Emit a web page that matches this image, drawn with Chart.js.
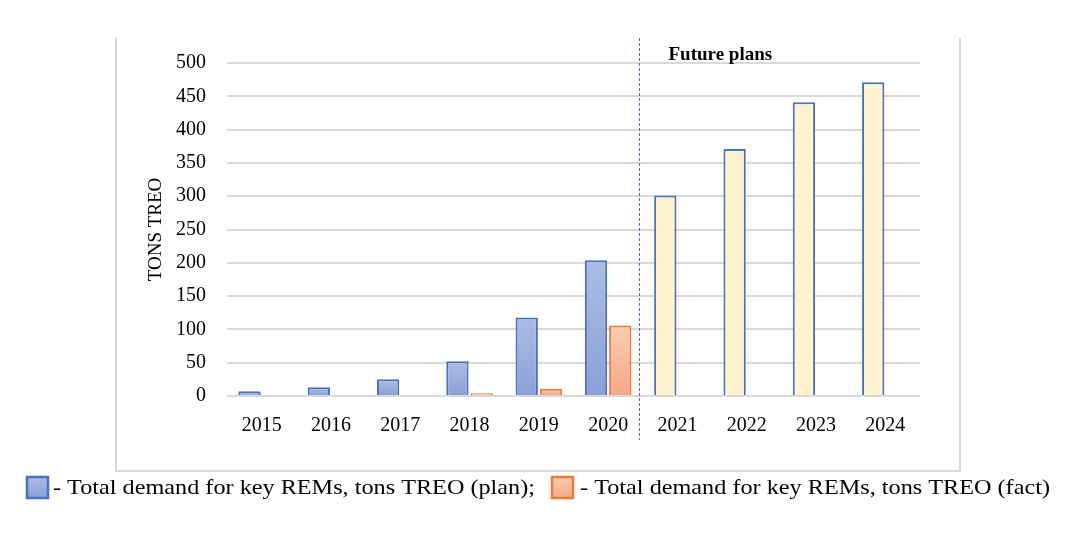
<!DOCTYPE html>
<html>
<head>
<meta charset="utf-8">
<script src="https://cdn.jsdelivr.net/npm/chart.js@4.4.1/dist/chart.umd.min.js"></script>
<style>
  html, body { margin: 0; padding: 0; background: #ffffff; }
  #wrap { position: relative; width: 1085px; height: 537px; }
  canvas { display: block; }
</style>
</head>
<body>
<div id="wrap"><canvas id="c" width="1085" height="537"></canvas></div>
<script>
// ---- data ----
const years = ['2015', '2016', '2017', '2018', '2019', '2020', '2021', '2022', '2023', '2024'];
const planValues = [7, 13, 25, 52, 118, 204, 301, 371, 441, 471];
const factValues = [null, null, null, 4, 11, 106, null, null, null, null];
const futureYears = ['2021', '2022', '2023', '2024'];
const yTicks = [0, 50, 100, 150, 200, 250, 300, 350, 400, 450, 500];
const seriesLabels = ['Total demand for key REMs, tons TREO (plan)', 'Total demand for key REMs, tons TREO (fact)'];
const axisTitle = 'TONS TREO';
const noteText = 'Future plans';

const SERIF = '"Liberation Serif", "Times New Roman", serif';
const planGrad = ['#AEBCE4', '#8AA0D7'];
const factGrad = ['#F9CDB3', '#F4A886'];
const futureFill = '#FFF2CC';

function barGradient(stops, ctx) {
  const chart = ctx.chart;
  const { chartArea, scales } = chart;
  if (!chartArea || !scales.y || ctx.raw == null) return stops[1];
  const yTop = scales.y.getPixelForValue(ctx.raw);
  const y0 = scales.y.getPixelForValue(0);
  if (!isFinite(yTop) || !isFinite(y0) || yTop === y0) return stops[1];
  const g = chart.ctx.createLinearGradient(0, yTop, 0, y0);
  g.addColorStop(0, stops[0]);
  g.addColorStop(1, stops[1]);
  return g;
}

const decorPlugin = {
  id: 'decor',
  beforeDraw(chart) {
    const c = chart.ctx;
    c.save();
    c.strokeStyle = '#D9D9D9';
    c.lineWidth = 2;
    c.beginPath();
    c.moveTo(116, 38); c.lineTo(116, 471); c.lineTo(960, 471); c.lineTo(960, 38);
    c.stroke();
    c.restore();
  },
  afterDraw(chart) {
    const c = chart.ctx;
    const x = chart.scales.x;
    const i = years.indexOf(futureYears[0]);
    const divX = Math.round((x.getPixelForValue(i - 1) + x.getPixelForValue(i)) / 2) - 3.5;
    c.save();
    c.strokeStyle = '#4A6FB5';
    c.lineWidth = 1;
    c.setLineDash([3, 2]);
    c.beginPath();
    c.moveTo(divX, 38);
    c.lineTo(divX, 440);
    c.stroke();
    c.setLineDash([]);
    c.fillStyle = '#000';
    c.font = 'bold 19px ' + SERIF;
    c.textBaseline = 'alphabetic';
    c.textAlign = 'left';
    c.fillText(noteText, divX + 29, 60);

    const items = [
      { text: '- ' + seriesLabels[0] + ';', grad: planGrad, border: '#4472C4', box: 27, tx: 53, w: 482 },
      { text: '- ' + seriesLabels[1], grad: factGrad, border: '#ED7D31', box: 552, tx: 580, w: 470 }
    ];
    items.forEach(it => {
      const by = 477, bs = 21;
      const g = c.createLinearGradient(0, by, 0, by + bs);
      g.addColorStop(0, it.grad[0]); g.addColorStop(1, it.grad[1]);
      c.fillStyle = g;
      c.fillRect(it.box, by, bs, bs);
      c.strokeStyle = it.border;
      c.lineWidth = 2.5;
      c.strokeRect(it.box, by, bs, bs);
      c.fillStyle = '#000';
      c.font = '21px ' + SERIF;
      const mw = c.measureText(it.text).width;
      const sx = it.w / mw;
      c.save();
      c.translate(it.tx, 494);
      c.scale(sx, 1);
      c.fillText(it.text, 0, 0);
      c.restore();
    });
    c.restore();
  }
};

new Chart(document.getElementById('c'), {
  type: 'bar',
  data: {
    labels: years,
    datasets: [
      {
        label: seriesLabels[0],
        data: planValues,
        backgroundColor: ctx => futureYears.includes(years[ctx.dataIndex]) ? futureFill : barGradient(planGrad, ctx),
        borderColor: '#4472C4',
        borderWidth: 2,
        borderSkipped: 'start',
        categoryPercentage: 0.7,
        barPercentage: 0.92
      },
      {
        label: seriesLabels[1],
        data: factValues,
        backgroundColor: ctx => barGradient(factGrad, ctx),
        borderColor: '#ED7D31',
        borderWidth: 2,
        borderSkipped: 'start',
        categoryPercentage: 0.7,
        barPercentage: 0.92
      }
    ]
  },
  options: {
    responsive: false,
    animation: false,
    devicePixelRatio: 1,
    layout: { padding: { left: 140, right: 165, top: 63, bottom: 96 } },
    plugins: {
      legend: { display: false },
      tooltip: { enabled: false }
    },
    scales: {
      x: {
        grid: { display: false, drawTicks: false },
        border: { display: false },
        ticks: { color: '#000', font: { family: SERIF, size: 20 }, padding: 18, maxRotation: 0 },
        afterFit: s => { s.height = 45; }
      },
      y: {
        min: 0,
        max: 500,
        afterBuildTicks: s => { s.ticks = yTicks.map(v => ({ value: v })); },
        grid: { color: '#D9D9D9', lineWidth: 2, drawTicks: false },
        border: { display: false },
        ticks: { color: '#000', font: { family: SERIF, size: 20 }, padding: 21 },
        title: { display: true, text: axisTitle, color: '#000', font: { family: SERIF, size: 19 }, padding: { top: 5, bottom: 0 } },
        afterFit: s => { s.width = 87; }
      }
    }
  },
  plugins: [decorPlugin]
});
</script>
</body>
</html>
